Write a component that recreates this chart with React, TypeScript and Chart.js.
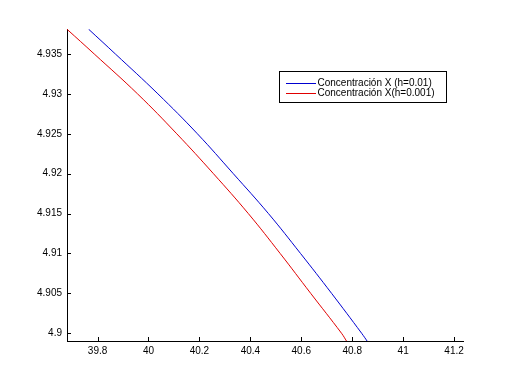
import React, { useEffect, useRef } from "react";
import { Chart, registerables } from "chart.js";

Chart.register(...registerables);

const seriesLabels = ["Concentración X (h=0.01)", "Concentración X(h=0.001)"];
const seriesColors = ["#0000d0", "#e00000"];

const blueX = [39.765, 39.87, 40.037, 40.192, 40.333, 40.471, 40.597, 40.719, 40.837, 40.859];
const blueY = [4.9381, 4.935, 4.93, 4.925, 4.92, 4.915, 4.91, 4.905, 4.9, 4.899];

const redX = [39.68, 39.787, 39.957, 40.111, 40.255, 40.392, 40.517, 40.637, 40.758, 40.778];
const redY = [4.9381, 4.935, 4.93, 4.925, 4.92, 4.915, 4.91, 4.905, 4.9, 4.899];

const xTickValues = [39.8, 40, 40.2, 40.4, 40.6, 40.8, 41, 41.2];
const xTickLabels = ["39.8", "40", "40.2", "40.4", "40.6", "40.8", "41", "41.2"];
const yTickValues = [4.9, 4.905, 4.91, 4.915, 4.92, 4.925, 4.93, 4.935];
const yTickLabels = ["4.9", "4.905", "4.91", "4.915", "4.92", "4.925", "4.93", "4.935"];

const FONT = "'Liberation Sans', Arial, Helvetica, sans-serif";

const inwardTicks = {
  id: "inwardTicks",
  afterDatasetsDraw(chart: any) {
    const { ctx, chartArea, scales } = chart;
    ctx.save();
    ctx.strokeStyle = "#000";
    ctx.lineWidth = 1;
    ctx.beginPath();
    xTickValues.forEach((v) => {
      const px = Math.round(scales.x.getPixelForValue(v)) + 0.5;
      ctx.moveTo(px, chartArea.bottom);
      ctx.lineTo(px, chartArea.bottom - 4);
    });
    yTickValues.forEach((v) => {
      const py = Math.round(scales.y.getPixelForValue(v)) + 0.5;
      ctx.moveTo(chartArea.left, py);
      ctx.lineTo(chartArea.left + 4, py);
    });
    ctx.stroke();
    ctx.restore();
  },
};

const boxLegend = {
  id: "boxLegend",
  afterDraw(chart: any) {
    const { ctx } = chart;
    const left = 279.5;
    const top = 71.5;
    const w = 167;
    const h = 31;
    ctx.save();
    ctx.fillStyle = "#fff";
    ctx.fillRect(left, top, w, h);
    ctx.strokeStyle = "#000";
    ctx.lineWidth = 1;
    ctx.strokeRect(left, top, w, h);
    ctx.font = `10px ${FONT}`;
    ctx.textBaseline = "middle";
    chart.data.datasets.forEach((ds: any, i: number) => {
      const y = Math.round(top + 11 + i * 10);
      ctx.fillStyle = seriesColors[i];
      ctx.fillRect(Math.round(left + 6), y, 30, 1);
      ctx.fillStyle = "#000";
      ctx.fillText(ds.label, left + 38, y + 0.5);
    });
    ctx.restore();
  },
};

export default function App() {
  const ref = useRef<HTMLCanvasElement | null>(null);
  useEffect(() => {
    document.body.style.margin = "0";
    const canvas = ref.current;
    if (!canvas) return;
    const chart = new Chart(canvas, {
      type: "line",
      data: {
        datasets: [
          {
            label: seriesLabels[0],
            data: blueX.map((x, i) => ({ x, y: blueY[i] })),
            borderColor: seriesColors[0],
            borderWidth: 1,
            pointRadius: 0,
            fill: false,
            tension: 0.4,
          },
          {
            label: seriesLabels[1],
            data: redX.map((x, i) => ({ x, y: redY[i] })),
            borderColor: seriesColors[1],
            borderWidth: 1,
            pointRadius: 0,
            fill: false,
            tension: 0.4,
          },
        ],
      },
      options: {
        animation: false,
        responsive: false,
        devicePixelRatio: 1,
        layout: { padding: { left: 0, top: 29, right: 47, bottom: 0 } },
        plugins: { legend: { display: false }, tooltip: { enabled: false } },
        scales: {
          x: {
            type: "linear",
            min: 39.68,
            max: 41.235,
            grid: { display: false, drawTicks: false },
            border: { display: true, color: "#000", width: 1 },
            afterBuildTicks: (scale: any) => {
              scale.ticks = xTickValues.map((v) => ({ value: v }));
            },
            afterFit: (scale: any) => {
              scale.height = 42;
            },
            ticks: {
              color: "#000",
              font: { family: FONT, size: 10 },
              padding: 4,
              maxRotation: 0,
              autoSkip: false,
              callback: (v: any) => {
                const i = xTickValues.findIndex((t) => Math.abs(t - Number(v)) < 1e-9);
                return i >= 0 ? xTickLabels[i] : "";
              },
            },
          },
          y: {
            type: "linear",
            min: 4.89903,
            max: 4.93813,
            grid: { display: false, drawTicks: false },
            border: { display: true, color: "#000", width: 1 },
            afterBuildTicks: (scale: any) => {
              scale.ticks = yTickValues.map((v) => ({ value: v }));
            },
            afterFit: (scale: any) => {
              scale.width = 67;
            },
            ticks: {
              color: "#000",
              font: { family: FONT, size: 10 },
              padding: 5,
              autoSkip: false,
              callback: (v: any) => {
                const i = yTickValues.findIndex((t) => Math.abs(t - Number(v)) < 1e-9);
                return i >= 0 ? yTickLabels[i] : "";
              },
            },
          },
        },
      } as any,
      plugins: [inwardTicks, boxLegend],
    });
    return () => chart.destroy();
  }, []);
  return (
    <div style={{ position: "absolute", left: 0, top: 0, width: 510, height: 383, background: "#fff" }}>
      <canvas ref={ref} width={510} height={383} style={{ width: 510, height: 383 }} />
    </div>
  );
}
